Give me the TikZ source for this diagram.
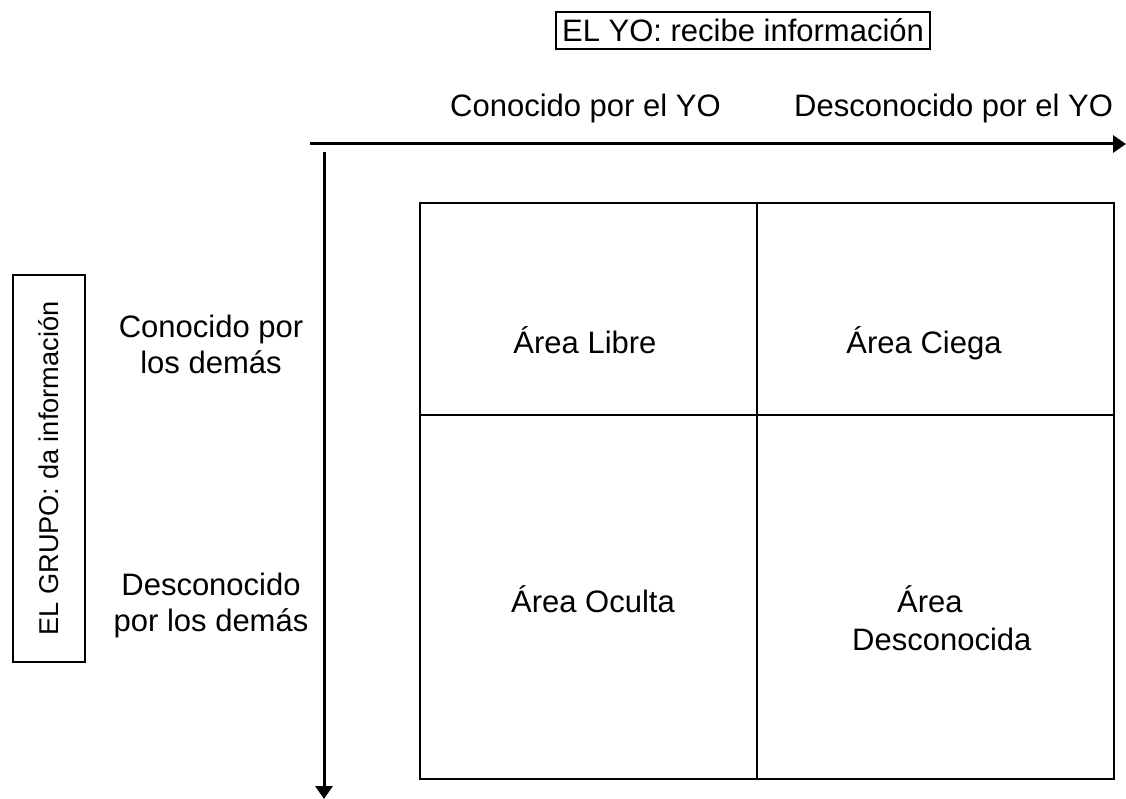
\documentclass[tikz,border=0pt]{standalone}
\usepackage{fontspec}
\setmainfont{Liberation Sans}
\usetikzlibrary{arrows.meta}
\begin{document}
\begin{tikzpicture}[x=1pt,y=-1pt,
  every node/.style={font=\fontsize{31}{36}\selectfont, inner sep=0pt},
  axis/.style={line width=3pt, -{Triangle[length=13pt,width=17pt]}},
  frame/.style={draw, line width=1.4pt},
  grid/.style={line width=1.4pt},
  lbl/.style={anchor=base}]
\useasboundingbox (0,0) rectangle (1126,799);
\fill[white] (0,0) rectangle (1126,799);

% titles
\node[frame, minimum width=374pt, minimum height=37pt] (yo) at (743,30.5) {EL YO: recibe información};
\node[frame, rotate=90, minimum width=387pt, minimum height=72pt, font=\fontsize{27.2}{32}\selectfont] (grupo) at (49,468.5) {EL GRUPO: da información};

% axes
\coordinate (hs) at (310,144);
\coordinate (he) at (1126,144);
\coordinate (vs) at (324,152);
\coordinate (ve) at (324,799);
\draw[axis] (hs) -- (he);
\draw[axis] (vs) -- (ve);

% column / row labels
\node[anchor=base west] (c1) at (450,117) {Conocido por el YO};
\node[anchor=base west] (c2) at (794,117) {Desconocido por el YO};
\node[lbl, align=center] (r1) at (211,373) {Conocido por\\los demás};
\node[lbl, align=center] (r2) at (211,631) {Desconocido\\por los demás};

% grid
\coordinate (g1) at (420,203);
\coordinate (g2) at (1114,779);
\draw[grid] (g1) rectangle (g2);
\draw[grid] (757,203) -- (757,779);
\draw[grid] (420,415) -- (1114,415);

% cells
\node[lbl] (libre) at (585,353) {Área Libre};
\node[lbl] (ciega) at (924,353) {Área Ciega};
\node[lbl] (oculta) at (593,612) {Área Oculta};
\node[anchor=base west, align=left, font=\fontsize{31}{38}\selectfont] (desc) at (852,650) {\hspace*{45pt}Área\\Desconocida};
\end{tikzpicture}
\end{document}
